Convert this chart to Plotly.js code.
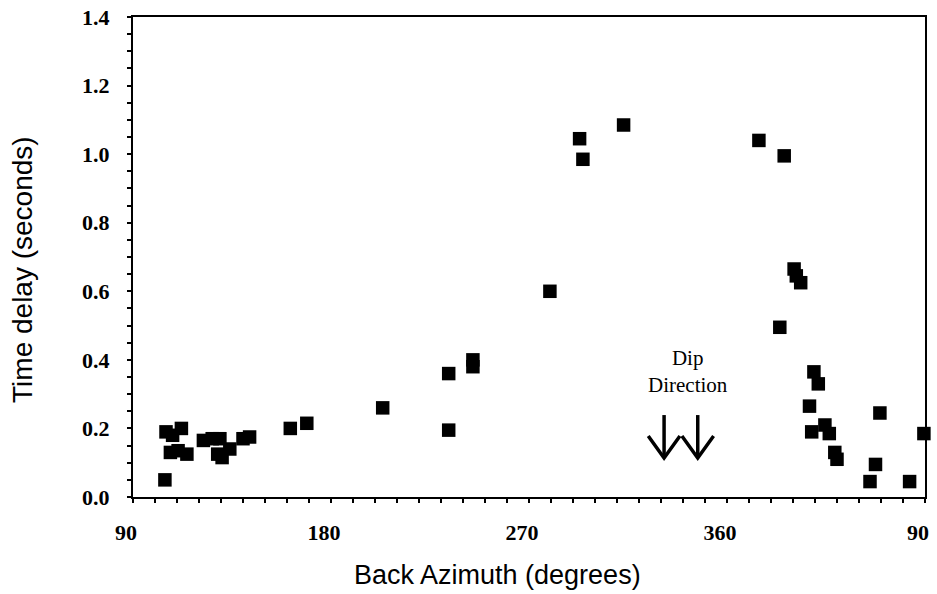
<!DOCTYPE html>
<html>
<head>
<meta charset="utf-8">
<script src="https://cdn.plot.ly/plotly-3.0.1.min.js"></script>
<style>html,body{margin:0;padding:0;background:#fff;}#chart{width:937px;height:594px;}</style>
</head>
<body>
<div id="chart"></div>
<script>
// Back azimuth (degrees; values past 360 wrap to 0-90 on the axis labels)
const backAzimuth = [104.5, 105, 108, 112, 107, 110.5, 114.5, 122, 126, 129.5, 128.5, 130.5, 134, 140, 143,
  161.5, 169, 203.5, 233.5, 233.5, 244.5, 244.5, 279.5, 293, 294.5, 313,
  374.5, 386, 384, 390.5, 391.5, 393.5, 399.5, 401.5, 397.5, 398.5, 404.5, 406.5, 409, 410,
  425, 427.5, 429.5, 443, 449.5];
// Time delay (seconds)
const timeDelay = [0.05, 0.19, 0.18, 0.20, 0.13, 0.135, 0.125, 0.165, 0.17, 0.17, 0.125, 0.115, 0.14, 0.17, 0.175,
  0.20, 0.215, 0.26, 0.36, 0.195, 0.40, 0.38, 0.60, 1.045, 0.985, 1.085,
  1.04, 0.995, 0.495, 0.665, 0.645, 0.625, 0.365, 0.33, 0.265, 0.19, 0.21, 0.185, 0.13, 0.11,
  0.045, 0.095, 0.245, 0.045, 0.185];
const xTickVals = [90, 180, 270, 360, 450];
const xTickText = ['90', '180', '270', '360', '90'];
const dipArrowAz = [331.4, 346.7];
const xTitle = 'Back Azimuth (degrees)';
const yTitle = 'Time delay (seconds)';
const dipLabel = 'Dip<br>Direction';

const serif = 'Liberation Serif, Times New Roman, serif';
const sans = 'Liberation Sans, Arial, sans-serif';

const trace = {
  x: backAzimuth, y: timeDelay, type: 'scatter', mode: 'markers',
  marker: {symbol: 'square', size: 13.5, color: '#000'},
  cliponaxis: false, hoverinfo: 'x+y'
};

const shapes = [];
dipArrowAz.forEach(a => {
  shapes.push({type: 'line', xref: 'x', yref: 'y', x0: a, x1: a, y0: 0.239, y1: 0.114,
    line: {color: '#000', width: 3.5}});
  shapes.push({type: 'path', xref: 'x', yref: 'y',
    path: `M ${a-7.2} 0.178 L ${a} 0.114 L ${a+7.2} 0.178`,
    line: {color: '#000', width: 3.5}});
});

const layout = {
  width: 937, height: 594,
  margin: {l: 133, r: 12, t: 17, b: 97},
  paper_bgcolor: '#fff', plot_bgcolor: '#fff',
  showlegend: false,
  xaxis: {
    range: [90, 450], tickmode: 'array', tickvals: xTickVals, ticktext: xTickText,
    showgrid: false, zeroline: false,
    showline: true, mirror: true, linecolor: '#000', linewidth: 2,
    ticks: 'outside', ticklen: 4, tickwidth: 2, tickcolor: '#000',
    minor: {dtick: 10, tick0: 90, ticks: 'outside', ticklen: 4, tickwidth: 2, tickcolor: '#000', showgrid: false},
    tickfont: {family: serif, size: 22, color: '#000', weight: 'bold'},
    ticklabelstandoff: 11, ticklabelshift: -7
  },
  yaxis: {
    range: [0, 1.4], dtick: 0.2, tick0: 0, tickformat: '.1f',
    showgrid: false, zeroline: false,
    showline: true, mirror: true, linecolor: '#000', linewidth: 2,
    ticks: 'outside', ticklen: 4, tickwidth: 2, tickcolor: '#000',
    minor: {dtick: 0.05, tick0: 0, ticks: 'outside', ticklen: 4, tickwidth: 2, tickcolor: '#000', showgrid: false},
    tickfont: {family: serif, size: 22, color: '#000', weight: 'bold'},
    ticklabelstandoff: 13
  },
  annotations: [
    {x: 342.3, y: 0.365, xref: 'x', yref: 'y', text: dipLabel, showarrow: false,
     font: {family: serif, size: 21, color: '#000'}, align: 'center'},
    {x: 0.4596, y: -0.1625, xref: 'paper', yref: 'paper', xanchor: 'center', yanchor: 'middle',
     text: xTitle, showarrow: false, font: {family: sans, size: 27, color: '#000'}},
    {x: -0.1402, y: 0.475, xref: 'paper', yref: 'paper', xanchor: 'center', yanchor: 'middle',
     text: yTitle, textangle: -90, showarrow: false, font: {family: sans, size: 28, color: '#000'}}
  ],
  shapes: shapes
};

Plotly.newPlot('chart', [trace], layout, {displayModeBar: false, staticPlot: true});
</script>
</body>
</html>
